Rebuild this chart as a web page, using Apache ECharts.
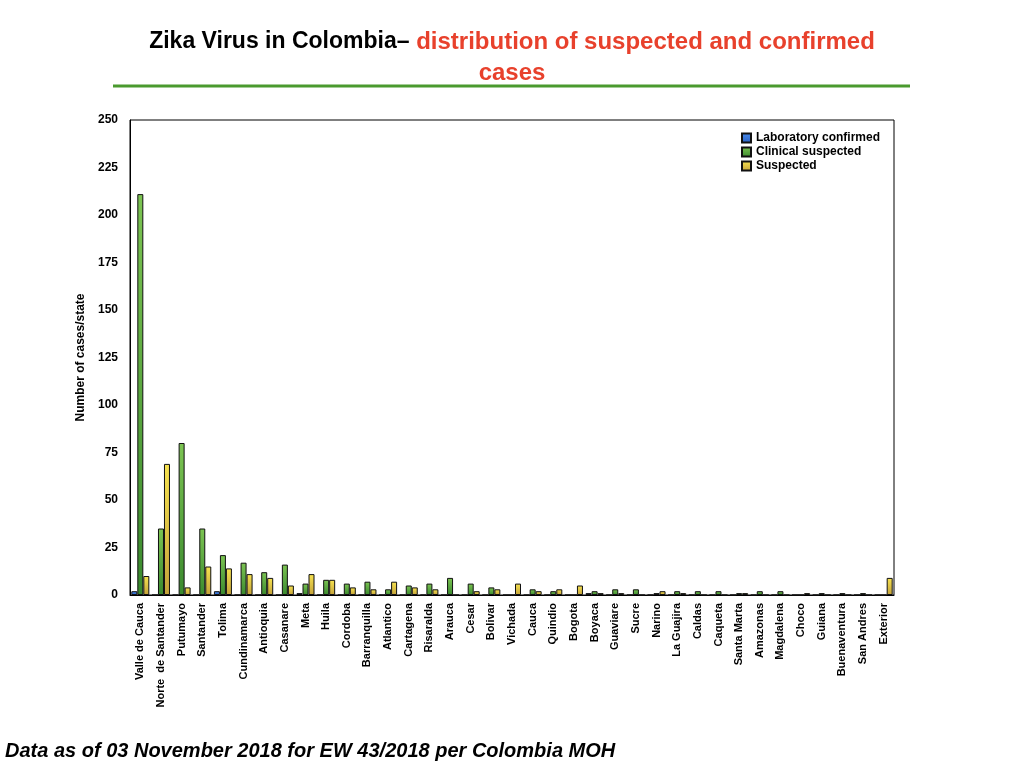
<!DOCTYPE html>
<html>
<head>
<meta charset="utf-8">
<script src="https://cdn.jsdelivr.net/npm/echarts@6/dist/echarts.min.js"></script>
<style>html,body{margin:0;padding:0;background:#fff;}#c{width:1024px;height:768px;}</style>
</head>
<body>
<div id="c"></div>
<script>
var categories = ["Valle de Cauca","Norte  de Santander","Putumayo","Santander","Tolima","Cundinamarca","Antioquia","Casanare","Meta","Huila","Cordoba","Barranquilla","Atlantico","Cartagena","Risaralda","Arauca","Cesar","Bolivar","Vichada","Cauca","Quindio","Bogota","Boyaca","Guaviare","Sucre","Narino","La Guajira","Caldas","Caqueta","Santa Marta","Amazonas","Magdalena","Choco","Guiana","Buenaventura","San Andres","Exterior"];
var labConfirmed = [2,0,0,0,2,0,0,0,1,0,0,0,0,0,0,0,0,0,0,0,0,0,1,0,0,0,0,0,0,0,0,0,0,0,0,0,0];
var clinicalSuspected = [211,35,80,35,21,17,12,16,6,8,6,7,3,5,6,9,6,4,0,3,2,0,2,3,3,1,2,2,2,1,2,2,0,1,1,1,0];
var suspected = [10,69,4,15,14,11,9,5,11,8,4,3,7,4,3,0,2,3,6,2,3,5,1,1,0,2,1,0,0,1,0,0,1,0,0,0,9];
var yTicks = [0,25,50,75,100,125,150,175,200,225,250];

var chart = echarts.init(document.getElementById('c'));
var F = '"Liberation Sans", Arial, sans-serif';
function grad(top, bottom) {
  return new echarts.graphic.LinearGradient(0,0,0,1,[{offset:0,color:top},{offset:1,color:bottom}]);
}
chart.setOption({
  animation: false,
  title: [{
    text: 'Data as of 03 November 2018 for EW 43/2018 per Colombia MOH',
    left: 0, top: 736,
    textStyle: {color:'#000', fontSize:20, fontWeight:'bold', fontStyle:'italic', fontFamily:F}
  }],
  graphic: [{
    type:'text', left:'center', top:30,
    style:{
      text:'{a|Zika Virus in Colombia\u2013}  {b|distribution of suspected and confirmed}',
      rich:{
        a:{fill:'#000', fontSize:23, fontWeight:'bold', fontFamily:F},
        b:{fill:'#e8412c', fontSize:24, fontWeight:'bold', fontFamily:F}
      }
    }
  },{
    type:'text', left:'center', top:61,
    style:{text:'cases', fill:'#e8412c', fontSize:24, fontWeight:'bold', fontFamily:F}
  },{
    type:'line', shape:{x1:113,y1:86,x2:910,y2:86}, style:{stroke:'#4a9a2e', lineWidth:3}
  }],
  legend: {
    orient: 'vertical', left: 736, top: 127,
    itemWidth: 9, itemHeight: 9, itemGap: 2,
    icon: 'rect',
    textStyle: {fontSize:12, fontWeight:'bold', fontFamily:F, color:'#000'},
    data: ['Laboratory confirmed','Clinical suspected','Suspected']
  },
  grid: {left:130, right:130, top:120, bottom:173, show:true, borderColor:'#000', borderWidth:1},
  xAxis: {
    type:'category', data: categories,
    axisLine:{lineStyle:{color:'#000', width:1}},
    axisTick:{show:false},
    axisLabel:{rotate:90, interval:0, fontSize:11, fontWeight:'bold', fontFamily:F, color:'#000', margin:8}
  },
  yAxis: {
    type:'value', min:0, max:250, interval:25,
    name:'Number of cases/state', nameLocation:'middle', nameGap:36, nameRotate:90,
    nameTextStyle:{fontSize:12, fontWeight:'bold', fontFamily:F, color:'#000'},
    axisLine:{show:true, lineStyle:{color:'#000', width:1}},
    axisTick:{show:false},
    splitLine:{show:false},
    axisLabel:{fontSize:12, fontWeight:'bold', fontFamily:F, color:'#000', margin:12,
      formatter:function(v){return yTicks.indexOf(v)>=0?String(v):'';}}
  },
  series: [{
    name:'Laboratory confirmed', type:'bar', data: labConfirmed, barWidth:6, barGap:'0%',
    itemStyle:{color:grad('#4a8ef0','#2a5fc0'), borderColor:'#111', borderWidth:1}
  },{
    name:'Clinical suspected', type:'bar', data: clinicalSuspected, barWidth:6, barGap:'0%',
    itemStyle:{color:grad('#7cc452','#3a8a2e'), borderColor:'#111', borderWidth:1}
  },{
    name:'Suspected', type:'bar', data: suspected, barWidth:6, barGap:'0%',
    itemStyle:{color:grad('#f7e350','#c4a23a'), borderColor:'#111', borderWidth:1}
  }]
});
</script>
</body>
</html>
